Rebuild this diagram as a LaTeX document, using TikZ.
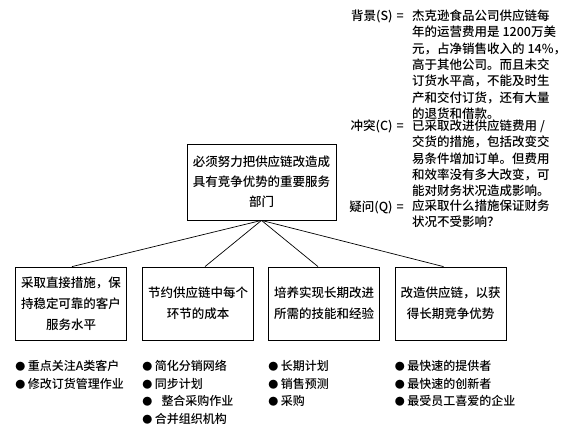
\documentclass[tikz,border=0pt]{standalone}
\usepackage{fontspec}
\setmainfont{Noto Sans CJK SC}[UprightFont=* Medium]
\usetikzlibrary{positioning}
\newcommand{\bul}{{\fontsize{10}{10}\selectfont ●}\hspace{2.5pt}}
\tikzset{
  goalbox/.style={draw=black,line width=.8pt,inner sep=0pt,align=center,
    minimum width=149pt,minimum height=76pt,font=\fontsize{12.5}{20}\selectfont},
  waybox/.style={draw=black,line width=.8pt,inner sep=0pt,align=center,
    minimum width=111pt,minimum height=73pt,font=\fontsize{12.5}{21}\selectfont},
  link/.style={draw=black,line width=.7pt},
  scqlabel/.style={anchor=base east,inner sep=0pt,font=\fontsize{12.5}{16.3}\selectfont},
  scqtext/.style={anchor=base west,inner sep=0pt,align=left,font=\fontsize{12.5}{16.3}\selectfont},
  steplist/.style={anchor=north west,inner sep=0pt,align=left,font=\fontsize{12}{17.5}\selectfont}
}
\begin{document}
\begin{tikzpicture}[x=1pt,y=-1pt]
  \useasboundingbox (0,0) rectangle (566,426);
  % goal and the four ways to it
  \node[goalbox] (goal) at (261.5,182)
    {必须努力把供应链改造成\\具有竞争优势的重要服务\\部门};
  \node[waybox] (w1) at (71,303.5)
    {采取直接措施，保\\持稳定可靠的客户\\服务水平};
  \node[waybox] (w2) at (198,303.5) {节约供应链中每个\\环节的成本};
  \node[waybox] (w3) at (324,303.5) {培养实现长期改进\\所需的技能和经验};
  \node[waybox] (w4) at (450.5,303.5) {改造供应链，以获\\得长期竞争优势};
  \draw[link] (goal.south) -- ([xshift=1pt]w1.north);
  \draw[link] (goal.south) -- ([xshift=7pt]w2.north);
  \draw[link] (goal.south) -- ([xshift=-6pt]w3.north);
  \draw[link] (goal.south) -- ([xshift=-7pt]w4.north);

  % situation, complication, question
  \node[scqlabel] (sl) at (404,20.5) {背景(S)\hspace{4pt}=};
  \node[scqtext] (st) at (412,118.3)
    {杰克逊食品公司供应链每\\年的运营费用是 1200万美\\元，占净销售收入的 14\%，\\
     高于其他公司。而且未交\\订货水平高，不能及时生\\产和交付订货，还有大量\\的退货和借款。};
  \node[scqlabel] (cl) at (404,130.5) {冲突(C)\hspace{4pt}=};
  \node[scqtext] (ct) at (412,195.7)
    {已采取改进供应链费用 /\\交货的措施，包括改变交\\易条件增加订单。但费用\\
     和效率没有多大改变，可\\能对财务状况造成影响。};
  \node[scqlabel] (ql) at (404,211.5) {疑问(Q)\hspace{4pt}=};
  \node[scqtext] (qt) at (412,226.5)
    {应采取什么措施保证财务\\状况不受影响？};

  % actions under each way
  \node[steplist,below=20pt of w1.south west,anchor=north west] (a1)
    {\bul 重点关注A类客户\\\bul 修改订货管理作业};
  \node[steplist,below=20pt of w2.south west,anchor=north west] (a2)
    {\bul 简化分销网络\\\bul 同步计划\\\bul\hspace{4pt} 整合采购作业\\\bul 合并组织机构};
  \node[steplist,below=20pt of w3.south west,anchor=north west] (a3)
    {\bul 长期计划\\\bul 销售预测\\\bul 采购};
  \node[steplist,below=20pt of w4.south west,anchor=north west] (a4)
    {\bul 最快速的提供者\\\bul 最快速的创新者\\\bul 最受员工喜爱的企业};
\end{tikzpicture}
\end{document}
